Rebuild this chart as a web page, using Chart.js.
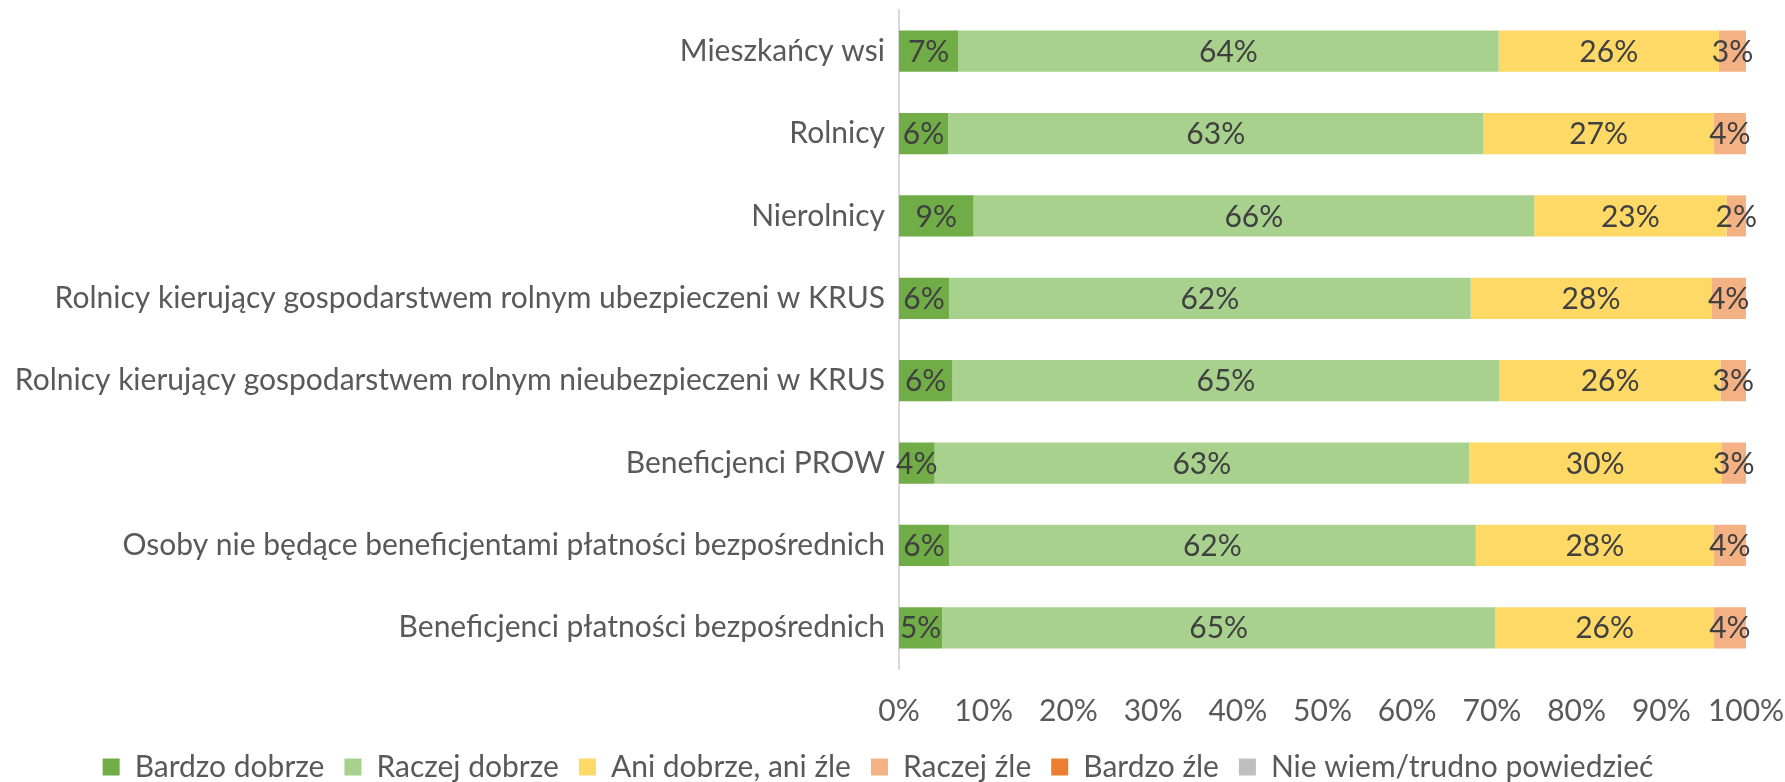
<!DOCTYPE html>
<html>
<head>
<meta charset="utf-8">
<script src="https://cdn.jsdelivr.net/npm/chart.js@4"></script>
<style>
  html, body { margin: 0; padding: 0; background: #fff; }
  #wrap { width: 1785px; height: 782px; }
</style>
</head>
<body>
<div id="wrap"><canvas id="oceny"></canvas></div>
<script>
const grupy = [
    'Mieszkańcy wsi',
    'Rolnicy',
    'Nierolnicy',
    'Rolnicy kierujący gospodarstwem rolnym ubezpieczeni w KRUS',
    'Rolnicy kierujący gospodarstwem rolnym nieubezpieczeni w KRUS',
    'Beneficjenci PROW',
    'Osoby nie będące beneficjentami płatności bezpośrednich',
    'Beneficjenci płatności bezpośrednich'
];

const bardzoDobrze = [7.0, 5.8, 8.8, 5.9, 6.3, 4.2, 5.9, 5.1];
const raczejDobrze = [63.8, 63.2, 66.2, 61.6, 64.6, 63.1, 62.2, 65.3];
const aniDobrzeAniZle = [26.0, 27.2, 22.7, 28.4, 26.1, 29.8, 28.1, 25.8];
const raczejZle = [3.2, 3.8, 2.3, 4.1, 3.0, 2.9, 3.8, 3.8];
const bardzoZle = [0, 0, 0, 0, 0, 0, 0, 0];
const nieWiem = [0, 0, 0, 0, 0, 0, 0, 0];

const FONT = 'Lato';
const SIZE = 30;

// etykiety wartości na środku każdego odcinka
const etykiety = {
    id: 'etykiety',
    afterDatasetsDraw(chart) {
        const ctx = chart.ctx;
        ctx.save();
        ctx.font = SIZE + 'px ' + FONT;
        ctx.fillStyle = '#404040';
        ctx.textAlign = 'center';
        ctx.textBaseline = 'middle';
        chart.data.datasets.forEach((ds, i) => {
            const meta = chart.getDatasetMeta(i);
            meta.data.forEach((bar, j) => {
                const v = ds.data[j];
                if (!v) return;
                const p = bar.getProps(['x', 'y', 'base'], true);
                ctx.fillText(Math.round(v) + '%', (p.x + p.base) / 2, p.y + 1);
            });
        });
        ctx.restore();
    }
};

const ctx = document.getElementById('oceny').getContext('2d');
new Chart(ctx, {
    type: 'bar',
    data: {
        labels: grupy,
        datasets: [
            { label: 'Bardzo dobrze', data: bardzoDobrze, backgroundColor: '#70AD47' },
            { label: 'Raczej dobrze', data: raczejDobrze, backgroundColor: '#A9D18E' },
            { label: 'Ani dobrze, ani źle', data: aniDobrzeAniZle, backgroundColor: '#FFD966' },
            { label: 'Raczej źle', data: raczejZle, backgroundColor: '#F4B183' },
            { label: 'Bardzo źle', data: bardzoZle, backgroundColor: '#ED7D31' },
            { label: 'Nie wiem/trudno powiedzieć', data: nieWiem, backgroundColor: '#BFBFBF' }
        ]
    },
    options: {
        indexAxis: 'y',
        responsive: true,
        maintainAspectRatio: false,
        animation: false,
        datasets: {
            bar: { categoryPercentage: 1, barPercentage: 0.5, borderWidth: 0 }
        },
        layout: { padding: { left: 10, right: 39, top: 10, bottom: -10 } },
        scales: {
            x: {
                stacked: true,
                min: 0,
                max: 100,
                grid: { display: false, drawTicks: false },
                border: { display: false },
                ticks: {
                    stepSize: 10,
                    padding: 24,
                    color: '#595959',
                    font: { family: FONT, size: SIZE, lineHeight: 1.2 },
                    callback: v => v + '%'
                },
                afterFit(scale) {
                    scale.height = 63;
                    scale.paddingLeft = 0;
                    scale.paddingRight = 0;
                }
            },
            y: {
                stacked: true,
                grid: { display: false, drawTicks: false },
                border: { display: true, color: '#D9D9D9', width: 2 },
                ticks: {
                    padding: 14,
                    color: '#595959',
                    font: { family: FONT, size: SIZE }
                },
                afterFit(scale) {
                    scale.width = 889;
                    scale.paddingTop = 0;
                    scale.paddingBottom = 0;
                }
            }
        },
        plugins: {
            legend: {
                position: 'bottom',
                labels: {
                    boxWidth: 17,
                    boxHeight: 17,
                    padding: 20,
                    color: '#595959',
                    font: { family: FONT, size: SIZE, lineHeight: 1 }
                }
            },
            tooltip: { enabled: false }
        }
    },
    plugins: [etykiety]
});
</script>
</body>
</html>
